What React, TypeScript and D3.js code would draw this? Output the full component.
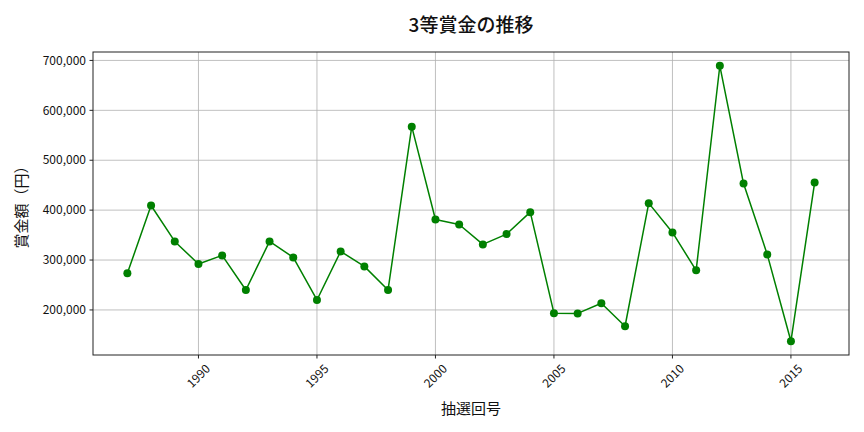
import * as d3 from 'd3';
import { useEffect, useRef } from 'react';

const years = [
  1987, 1988, 1989, 1990, 1991, 1992, 1993, 1994, 1995, 1996, 1997, 1998, 1999, 2000, 2001,
  2002, 2003, 2004, 2005, 2006, 2007, 2008, 2009, 2010, 2011, 2012, 2013, 2014, 2015, 2016,
];
const prizes = [
  273300, 409300, 337300, 292000, 309300, 240000, 337300, 305300, 220000, 317300, 287300, 240000, 567300, 381300, 371300,
  331300, 352000, 396000, 193500, 193000, 213300, 167300, 414000, 355300, 279300, 689300, 453300, 311300, 137300, 455300,
];
const yTicks = [200000, 300000, 400000, 500000, 600000, 700000];
const xTicks = [1990, 1995, 2000, 2005, 2010, 2015];

const W = 864;
const H = 432;
const margin = { top: 52, right: 15, bottom: 77, left: 93 };
const FONT = '"Noto Sans CJK JP", "Noto Sans", sans-serif';

export default function App() {
  const ref = useRef<SVGSVGElement | null>(null);

  useEffect(() => {
    const svg = d3.select(ref.current);
    svg.selectAll('*').remove();

    const x0 = margin.left;
    const x1 = W - margin.right;
    const y0 = H - margin.bottom;
    const y1 = margin.top;

    // matplotlib-style 5% padding around data
    const [xmin, xmax] = d3.extent(years) as [number, number];
    const xpad = (xmax - xmin) * 0.05;
    const [ymin, ymax] = d3.extent(prizes) as [number, number];
    const ypad = (ymax - ymin) * 0.05;

    const x = d3.scaleLinear().domain([xmin - xpad, xmax + xpad]).range([x0, x1]);
    const y = d3.scaleLinear().domain([ymin - ypad, ymax + ypad]).range([y0, y1]);

    svg.append('rect').attr('width', W).attr('height', H).attr('fill', 'white');

    // grid
    const grid = svg.append('g').attr('stroke', '#b0b0b0').attr('stroke-width', 0.8);
    grid
      .selectAll('line.gx')
      .data(xTicks)
      .join('line')
      .attr('x1', (d) => x(d))
      .attr('x2', (d) => x(d))
      .attr('y1', y0)
      .attr('y2', y1);
    grid
      .selectAll('line.gy')
      .data(yTicks)
      .join('line')
      .attr('class', 'gy')
      .attr('x1', x0)
      .attr('x2', x1)
      .attr('y1', (d) => y(d))
      .attr('y2', (d) => y(d));

    // line + markers
    const pts = years.map((yr, i) => [yr, prizes[i]] as [number, number]);
    svg
      .append('path')
      .datum(pts)
      .attr('fill', 'none')
      .attr('stroke', '#008000')
      .attr('stroke-width', 1.5)
      .attr('stroke-linejoin', 'round')
      .attr('d', d3.line().x((d) => x(d[0])).y((d) => y(d[1])));
    svg
      .append('g')
      .attr('fill', '#008000')
      .selectAll('circle')
      .data(pts)
      .join('circle')
      .attr('cx', (d) => x(d[0]))
      .attr('cy', (d) => y(d[1]))
      .attr('r', 4);

    // frame
    svg
      .append('rect')
      .attr('x', x0)
      .attr('y', y1)
      .attr('width', x1 - x0)
      .attr('height', y0 - y1)
      .attr('fill', 'none')
      .attr('stroke', '#222')
      .attr('stroke-width', 1);

    // y ticks
    const fmt = d3.format(',');
    const yt = svg.append('g').selectAll('g').data(yTicks).join('g').attr('transform', (d) => `translate(${x0},${y(d)})`);
    yt.append('line').attr('x1', -3.5).attr('x2', 0).attr('stroke', '#222');
    yt.append('text')
      .attr('x', -7)
      .attr('dy', '0.35em')
      .attr('text-anchor', 'end')
      .attr('font-family', FONT)
      .attr('font-size', 12)
      .attr('fill', '#111')
      .text((d) => fmt(d));

    // x ticks
    const xt = svg.append('g').selectAll('g').data(xTicks).join('g').attr('transform', (d) => `translate(${x(d)},${y0})`);
    xt.append('line').attr('y1', 0).attr('y2', 3.5).attr('stroke', '#222');
    xt.append('text')
      .attr('transform', 'translate(0,21) rotate(-45)')
      .attr('text-anchor', 'middle')
      .attr('dy', '0.35em')
      .attr('font-family', FONT)
      .attr('font-size', 12)
      .attr('fill', '#111')
      .text((d) => String(d));

    // title + labels
    svg
      .append('text')
      .attr('x', (x0 + x1) / 2)
      .attr('y', 32)
      .attr('text-anchor', 'middle')
      .attr('font-family', FONT)
      .attr('font-size', 19)
      .attr('font-weight', 500)
      .attr('fill', '#111')
      .text('3等賞金の推移');
    svg
      .append('text')
      .attr('x', (x0 + x1) / 2)
      .attr('y', 414)
      .attr('text-anchor', 'middle')
      .attr('font-family', FONT)
      .attr('font-size', 15)
      .attr('fill', '#111')
      .text('抽選回号');
    svg
      .append('text')
      .attr('transform', `translate(27,${(y0 + y1) / 2}) rotate(-90)`)
      .attr('text-anchor', 'middle')
      .attr('font-family', FONT)
      .attr('font-size', 15)
      .attr('fill', '#111')
      .text('賞金額（円）');
  }, []);

  return (
    <div style={{ position: 'absolute', left: 0, top: 0 }}>
      <svg ref={ref} width={W} height={H} style={{ display: 'block' }} />
    </div>
  );
}
